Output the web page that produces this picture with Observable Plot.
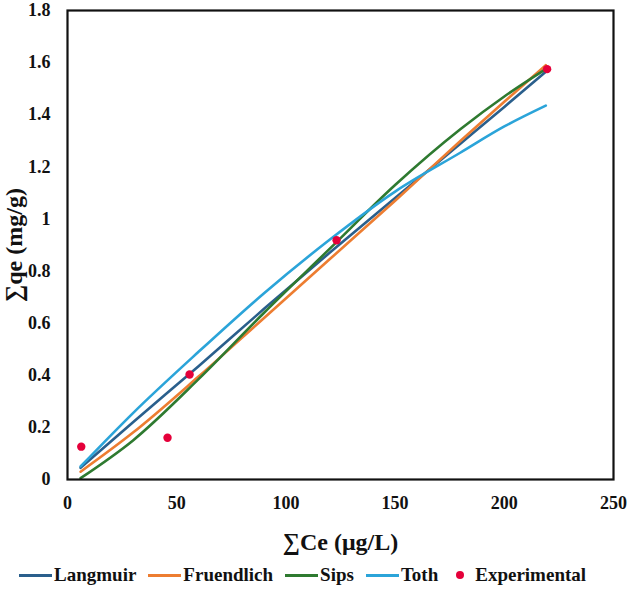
<!DOCTYPE html>
<html>
<head>
<meta charset="utf-8">
<script src="https://cdn.jsdelivr.net/npm/d3@7"></script>
<script src="https://cdn.jsdelivr.net/npm/@observablehq/plot@0.6"></script>
<style>
  body { margin: 0; background: #fff; font-family: "Liberation Serif", "Times New Roman", serif; }
  #chart svg { display: block; }
  #legend {
    display: flex; justify-content: flex-start; align-items: center;
    height: 38px; width: 628px; box-sizing: border-box; padding-left: 13px;
    font-weight: bold; font-size: 19px; color: #111;
  }
  .item { display: flex; align-items: center; margin: 0 6px; }
  .sw { width: 33px; height: 3px; margin-right: 2px; }
  .dot { width: 8px; height: 8px; border-radius: 50%; margin-right: 11px; margin-left: 6px; }
</style>
</head>
<body>
<div id="chart"></div>
<div id="legend"></div>
<script>
// Fitted isotherm curves, sampled along ∑Ce (µg/L)
const ceGrid     = [6, 30, 60, 90, 120, 150, 180, 200, 219];
const langmuir   = [0.045, 0.22, 0.435, 0.655, 0.87, 1.08, 1.29, 1.43, 1.565];
const fruendlich = [0.03, 0.18, 0.395, 0.62, 0.845, 1.07, 1.30, 1.45, 1.59];
const sips       = [0.005, 0.15, 0.385, 0.64, 0.885, 1.13, 1.345, 1.47, 1.575];
const toth       = [0.05, 0.255, 0.49, 0.715, 0.92, 1.105, 1.255, 1.355, 1.435];

// Measured points
const expCe = [6.3, 45.8, 55.9, 123.2, 219.6];
const expQe = [0.126, 0.16, 0.403, 0.918, 1.575];

const modelNames  = ["Langmuir", "Fruendlich", "Sips", "Toth"];
const modelColors = ["#2A5F8C", "#ED7D31", "#2E7A30", "#2BA4D9"];
const pointColor  = "#E5003A";

const xTicks = [0, 50, 100, 150, 200, 250];
const yTicks = [0, 0.2, 0.4, 0.6, 0.8, 1, 1.2, 1.4, 1.6, 1.8];

const series = [langmuir, fruendlich, sips, toth];
const curves = modelNames.flatMap((name, i) =>
  ceGrid.map((ce, j) => ({model: name, ce, qe: series[i][j]})));
const points = expCe.map((ce, i) => ({ce, qe: expQe[i]}));

const chart = Plot.plot({
  width: 628,
  height: 556,
  marginLeft: 67,
  marginRight: 15,
  marginTop: 10,
  marginBottom: 77,
  style: {fontFamily: "Liberation Serif, Times New Roman, serif", fontSize: "18px", fontWeight: "bold", color: "#111", overflow: "visible"},
  x: {domain: [0, 250]},
  y: {domain: [0, 1.8]},
  color: {domain: modelNames, range: modelColors},
  marks: [
    Plot.axisX({ticks: xTicks, tickSize: 0, tickPadding: 17, label: null}),
    Plot.axisY({ticks: yTicks, tickSize: 0, tickPadding: 17, label: null,
                tickFormat: d => String(+d.toFixed(1))}),
    ...modelNames.map(name =>
      Plot.line(curves.filter(d => d.model === name),
        {x: "ce", y: "qe", stroke: "model", strokeWidth: 2.6, curve: "monotone-x"})),
    Plot.dot(points, {x: "ce", y: "qe", r: 4.2, fill: pointColor}),
    Plot.frame({stroke: "#111", strokeWidth: 2.2}),
    Plot.text(["∑Ce (μg/L)"], {frameAnchor: "bottom", dy: 63, textAnchor: "middle", lineAnchor: "middle", fontSize: 24, fontWeight: "bold"}),
    Plot.text(["∑qe (mg/g)"], {frameAnchor: "left", dx: -53, textAnchor: "middle", lineAnchor: "middle", rotate: -90, fontSize: 24, fontWeight: "bold"})
  ]
});
document.getElementById("chart").appendChild(chart);

// Legend below the chart
const legend = document.getElementById("legend");
modelNames.forEach((name, i) => {
  const item = document.createElement("div");
  item.className = "item";
  item.innerHTML = `<span class="sw" style="background:${modelColors[i]}"></span><span>${name}</span>`;
  legend.appendChild(item);
});
const exp = document.createElement("div");
exp.className = "item";
exp.innerHTML = `<span class="dot" style="background:${pointColor}"></span><span>Experimental</span>`;
legend.appendChild(exp);
</script>
</body>
</html>
